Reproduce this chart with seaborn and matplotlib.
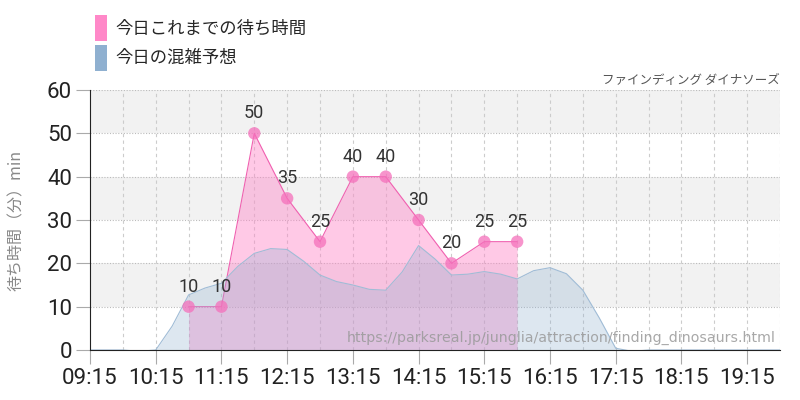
import numpy as np
import pandas as pd
import seaborn as sns
import matplotlib.pyplot as plt
from matplotlib.patches import Patch

# 今日これまでの待ち時間 (actual)
actual_times = ['10:45', '11:15', '11:45', '12:15', '12:45', '13:15', '13:45',
                '14:15', '14:45', '15:15', '15:45']
actual_wait = [10, 10, 50, 35, 25, 40, 40, 30, 20, 25, 25]

# 今日の混雑予想 (forecast), read every 15 min
forecast_times = ['09:15', '09:30', '09:45', '10:00', '10:15', '10:30', '10:45', '11:00',
                  '11:15', '11:30', '11:45', '12:00', '12:15', '12:30', '12:45', '13:00',
                  '13:15', '13:30', '13:45', '14:00', '14:15', '14:30', '14:45', '15:00',
                  '15:15', '15:30', '15:45', '16:00', '16:15', '16:30', '16:45', '17:00',
                  '17:15', '17:30', '17:45', '18:00', '18:15', '18:30', '18:45', '19:00',
                  '19:15', '19:30', '19:45']
forecast_wait = [0, 0, 0, -0.3, 0, 5.5, 12.7, 14.3,
                 15.4, 19.3, 22.3, 23.4, 23.2, 20.5, 17.3, 15.8,
                 15.0, 14.0, 13.8, 18.0, 24.1, 21.0, 17.3, 17.5,
                 18.1, 17.5, 16.4, 18.3, 19.0, 17.6, 13.8, 7.4,
                 0.4, -0.3, 0, 0, 0, 0, 0, 0,
                 0, 0, 0]

tick_labels = ['09:15', '10:15', '11:15', '12:15', '13:15', '14:15', '15:15',
               '16:15', '17:15', '18:15', '19:15']
title = 'ファインディング ダイナソーズ'
url = 'https://parksreal.jp/junglia/attraction/finding_dinosaurs.html'


def to_hours(t):
    h, m = t.split(':')
    return int(h) + int(m) / 60


act = pd.DataFrame({'t': [to_hours(t) for t in actual_times], 'wait': actual_wait})
fc = pd.DataFrame({'t': [to_hours(t) for t in forecast_times], 'wait': forecast_wait})

sns.set_style('white')
plt.rcParams['font.family'] = ['Noto Sans CJK JP', 'DejaVu Sans']
num_font = ['Roboto', 'DejaVu Sans']

pink = '#ff88c8'
blue = '#8fb0d0'

fig = plt.figure(figsize=(8, 4), dpi=100)
ax = fig.add_axes([0.1125, 0.125, 0.8625, 0.65])

xmin, xmax = to_hours('09:15'), to_hours('19:45')
ax.set_xlim(xmin, xmax)
ax.set_ylim(0, 60)

# alternating bands
for lo in (10, 30, 50):
    ax.axhspan(lo, lo + 10, color='#f2f2f2', zorder=0, lw=0)

# grid
for y in range(10, 61, 10):
    ax.axhline(y, color='#bbbbbb', lw=0.8, ls=(0, (1, 1.5)), zorder=1)
for x in np.arange(xmin + 0.5, xmax + 0.01, 0.5):
    ax.axvline(x, color='#cccccc', lw=0.8, ls=(0, (3, 3)), zorder=1)

# actual wait (pink)
ax.fill_between(act['t'], act['wait'], 0, color=pink, alpha=0.45, lw=0, zorder=2)
sns.lineplot(data=act, x='t', y='wait', color='#f060b0', lw=0.8, ax=ax, zorder=3)

# forecast (blue), drawn on top
ax.fill_between(fc['t'], fc['wait'], 0, color=blue, alpha=0.3, lw=0, zorder=4)
sns.lineplot(data=fc, x='t', y='wait', color='#a0bcd6', lw=0.8, ax=ax, zorder=4)

sns.scatterplot(data=act, x='t', y='wait', color='#f570bb', s=80, alpha=0.75,
                edgecolor='none', ax=ax, zorder=5)
for t, w in zip(act['t'], act['wait']):
    ax.annotate(str(w), (t, w), xytext=(0, 8), textcoords='offset points',
                ha='center', va='bottom', fontsize=13, color='#333333',
                family=num_font, zorder=6)

ax.text(0.993, 0.045, url, transform=ax.transAxes, ha='right', va='center',
        fontsize=10.2, color='#999999', alpha=0.85, family=['DejaVu Sans'], zorder=6)

# axes styling
for s in ('top', 'right'):
    ax.spines[s].set_visible(False)
ax.spines['left'].set_color('#222222')
ax.spines['bottom'].set_color('#222222')
ax.spines['left'].set_zorder(7)
ax.spines['bottom'].set_zorder(7)

ax.set_yticks(range(0, 61, 10))
ax.set_xticks([to_hours(t) for t in tick_labels])
ax.set_xticklabels(tick_labels)
ax.tick_params(axis='both', colors='#aaaaaa', length=10, width=0.8, labelcolor='#222222',
               labelsize=16, pad=3, left=True, bottom=True)
for lab in ax.get_xticklabels() + ax.get_yticklabels():
    lab.set_family(num_font)

ax.set_xlabel('')
ax.set_ylabel('待ち時間（分）min', fontsize=11.5, color='#888888')
ax.yaxis.set_label_coords(-0.094, 0.5)

ax.text(1.0, 1.012, title, transform=ax.transAxes, ha='right', va='bottom',
        fontsize=9, color='#555555')

handles = [Patch(facecolor=pink, edgecolor='none', label='今日これまでの待ち時間'),
           Patch(facecolor=blue, edgecolor='none', label='今日の混雑予想')]
fig.legend(handles=handles, loc='upper left', bbox_to_anchor=(0.11, 0.98),
           frameon=False, fontsize=12.5, handlelength=0.7, handleheight=1.9,
           handletextpad=0.5, labelspacing=0.25, borderaxespad=0)

fig.savefig('out.png', dpi=100)
